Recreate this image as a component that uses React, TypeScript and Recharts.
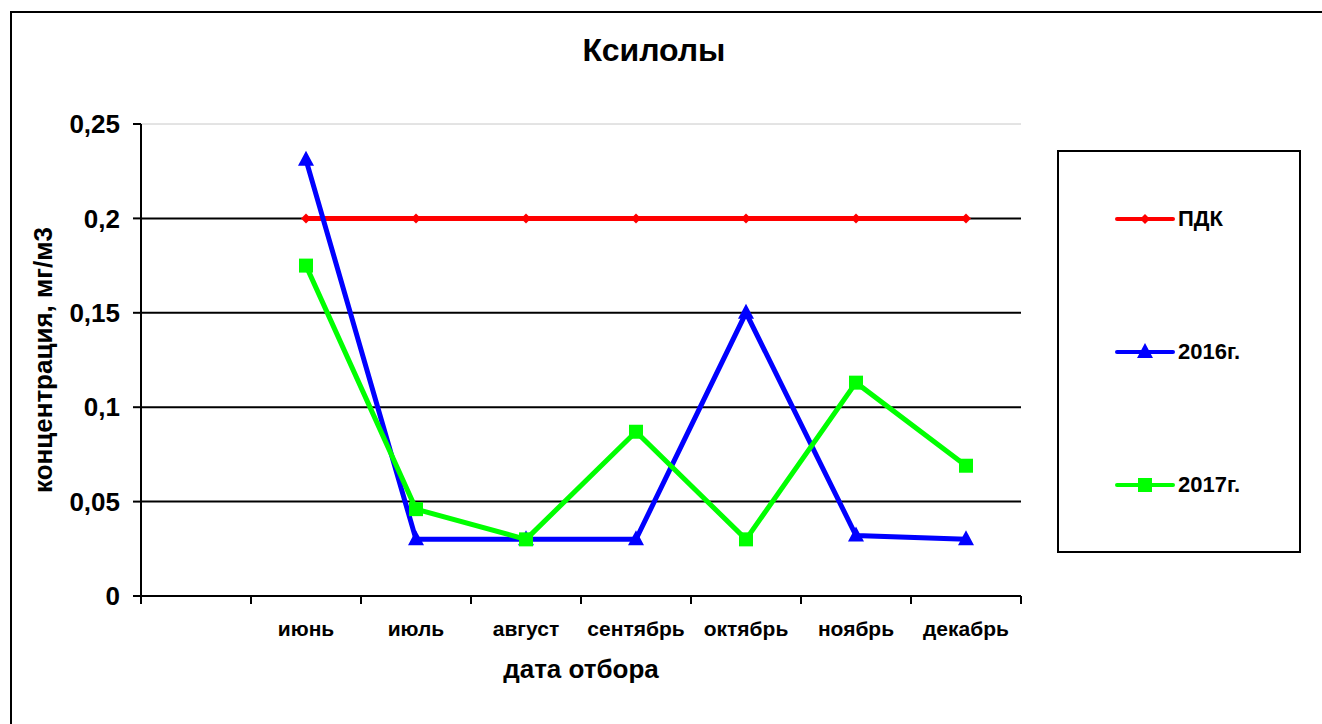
import React from 'react'
import { LineChart, Line, XAxis, YAxis, CartesianGrid, ReferenceLine, Legend } from 'recharts'

const months = ['', 'июнь', 'июль', 'август', 'сентябрь', 'октябрь', 'ноябрь', 'декабрь']
const pdk = [null, 0.2, 0.2, 0.2, 0.2, 0.2, 0.2, 0.2]
const y2016 = [null, 0.231, 0.03, 0.03, 0.03, 0.15, 0.032, 0.03]
const y2017 = [null, 0.175, 0.046, 0.03, 0.087, 0.03, 0.113, 0.069]
const yTicks = [0, 0.05, 0.1, 0.15, 0.2, 0.25]
const gridValues = [0.05, 0.1, 0.15, 0.2]

const data = months.map((m, i) => ({ month: m, pdk: pdk[i], y2016: y2016[i], y2017: y2017[i] }))

const W = 1322
const H = 724
const MARGIN = { top: 124, right: 301, bottom: 0, left: 0 }
const Y_AXIS_W = 141
const X_AXIS_H = 128
const BAND = (W - MARGIN.left - MARGIN.right - Y_AXIS_W) / months.length
const FONT = '"Liberation Sans", Arial, sans-serif'

type Shape = 'diamond' | 'triangle' | 'square'

const series: { key: string; name: string; color: string; shape: Shape }[] = [
  { key: 'pdk', name: 'ПДК', color: '#FF0000', shape: 'diamond' },
  { key: 'y2016', name: '2016г.', color: '#0000FF', shape: 'triangle' },
  { key: 'y2017', name: '2017г.', color: '#00FF00', shape: 'square' },
]

function markerPath(shape: Shape, cx: number, cy: number) {
  if (shape === 'diamond') return `M${cx},${cy - 5}L${cx + 5},${cy}L${cx},${cy + 5}L${cx - 5},${cy}Z`
  if (shape === 'triangle') return `M${cx},${cy - 9}L${cx + 8},${cy + 6}L${cx - 8},${cy + 6}Z`
  return `M${cx - 7},${cy - 7}h14v14h-14Z`
}

const makeDot = (shape: Shape, color: string) => (p: any) => {
  if (p.cx == null || p.cy == null || p.value == null) return <g key={p.key} />
  return <path key={p.key} d={markerPath(shape, p.cx, p.cy)} fill={color} stroke="none" />
}

const MonthTick = (props: any) => {
  const { x, y, payload, index } = props
  const half = BAND / 2
  return (
    <g>
      <line x1={x - half} y1={y} x2={x - half} y2={y + 8} stroke="#000" strokeWidth={2} />
      {index === months.length - 1 && (
        <line x1={x + half} y1={y} x2={x + half} y2={y + 8} stroke="#000" strokeWidth={2} />
      )}
      <text x={x} y={y + 40} textAnchor="middle" fontFamily={FONT} fontWeight="bold" fontSize={21} fill="#000">
        {payload.value}
      </text>
    </g>
  )
}

const fmt = (v: number) => String(v).replace('.', ',')

const LegendBox = () => (
  <div
    style={{
      width: 244,
      height: 403,
      border: '2px solid #000',
      boxSizing: 'border-box',
      background: '#fff',
    }}
  >
    {series.map((s) => (
      <div key={s.key} style={{ height: 133, display: 'flex', alignItems: 'center' }}>
        <svg width={60} height={20} style={{ marginLeft: 56 }}>
          <line x1={2} y1={10} x2={58} y2={10} stroke={s.color} strokeWidth={4} strokeLinecap="round" />
          <path d={markerPath(s.shape, 30, 10)} fill={s.color} />
        </svg>
        <span style={{ fontFamily: FONT, fontWeight: 'bold', fontSize: 22, color: '#000', marginLeft: 3 }}>
          {s.name}
        </span>
      </div>
    ))}
  </div>
)

export default function App() {
  return (
    <div style={{ position: 'absolute', left: 0, top: 0, width: W, height: H, overflow: 'hidden', background: '#fff' }}>
      <div
        style={{
          position: 'absolute',
          left: 10,
          top: 11,
          width: 1500,
          height: 900,
          border: '2px solid #000',
        }}
      />
      <div
        style={{
          position: 'absolute',
          left: 0,
          top: 32,
          width: 1308,
          textAlign: 'center',
          fontFamily: FONT,
          fontWeight: 'bold',
          fontSize: 32,
          color: '#000',
        }}
      >
        Ксилолы
      </div>
      <div style={{ position: 'absolute', left: 0, top: 0 }}>
        <LineChart width={W} height={H} data={data} margin={MARGIN}>
          <CartesianGrid vertical={false} horizontalValues={gridValues} stroke="#000" strokeWidth={2} />
          <ReferenceLine y={0.25} stroke="#c8c8c8" strokeWidth={1} />
          <XAxis
            dataKey="month"
            scale="band"
            interval={0}
            height={X_AXIS_H}
            tickLine={false}
            tickSize={0}
            tickMargin={0}
            axisLine={{ stroke: '#000', strokeWidth: 2 }}
            tick={<MonthTick />}
            label={(p: any) => (
              <text
                x={p.viewBox.x + p.viewBox.width / 2}
                y={p.viewBox.y + 82}
                textAnchor="middle"
                fontFamily={FONT}
                fontWeight="bold"
                fontSize={26}
                fill="#000"
              >
                дата отбора
              </text>
            )}
          />
          <YAxis
            width={Y_AXIS_W}
            domain={[0, 0.25]}
            ticks={yTicks}
            interval={0}
            tickFormatter={fmt}
            tickSize={8}
            tickMargin={13}
            tickLine={{ stroke: '#000', strokeWidth: 2 }}
            axisLine={{ stroke: '#000', strokeWidth: 2 }}
            tick={{ fill: '#000', fontFamily: FONT, fontWeight: 'bold', fontSize: 26 }}
            label={(p: any) => (
              <text
                x={43}
                y={p.viewBox.y + p.viewBox.height / 2}
                transform={`rotate(-90, 43, ${p.viewBox.y + p.viewBox.height / 2})`}
                textAnchor="middle"
                dominantBaseline="central"
                fontFamily={FONT}
                fontWeight="bold"
                fontSize={26}
                fill="#000"
              >
                концентрация, мг/м3
              </text>
            )}
          />
          <Legend
            layout="horizontal"
            align="center"
            verticalAlign="middle"
            content={<LegendBox />}
            wrapperStyle={{ left: 1057, top: 150, width: 244, height: 403 }}
          />
          {series.map((s) => (
            <Line
              key={s.key}
              type="linear"
              dataKey={s.key}
              name={s.name}
              stroke={s.color}
              strokeWidth={5}
              dot={makeDot(s.shape, s.color)}
              activeDot={false}
              isAnimationActive={false}
            />
          ))}
        </LineChart>
      </div>
    </div>
  )
}
